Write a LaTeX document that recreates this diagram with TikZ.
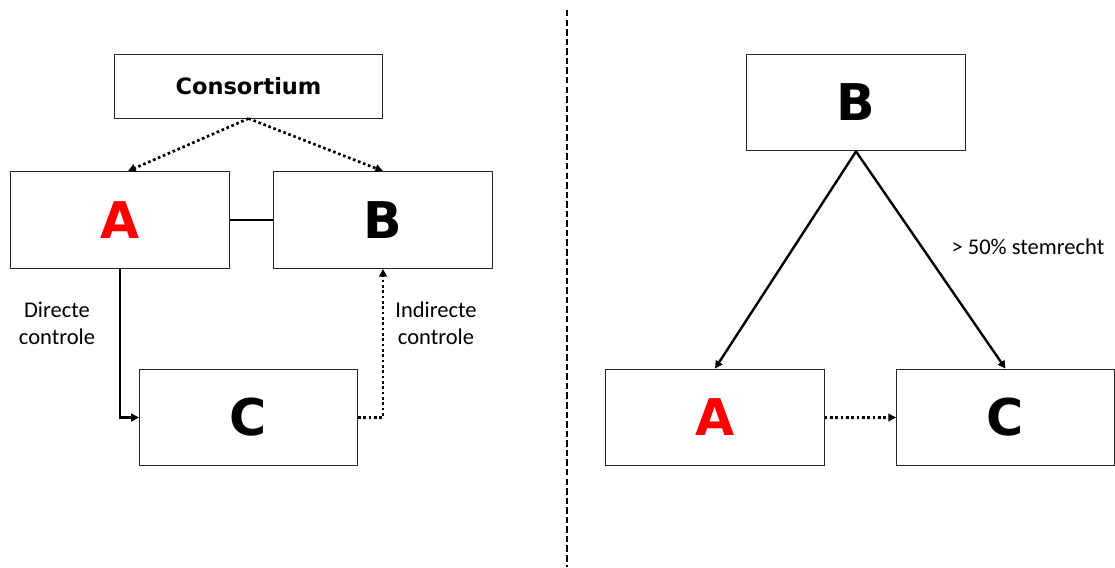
\documentclass[tikz,border=0pt]{standalone}
\usepackage{fontspec}
\setmainfont{Carlito}
\newfontfamily\verdanalike{DejaVu Sans}
\usepackage{xcolor}
\usepackage{tikz}
\usetikzlibrary{arrows.meta,positioning,calc}

\begin{document}
\begin{tikzpicture}[
    x=0.025cm, y=-0.025cm,
    >={Triangle[length=5.5pt,width=5.5pt]},
    box/.style={rectangle, draw=black!85, line width=0.7pt, fill=white,
                minimum width=5.45cm, minimum height=2.42cm, inner sep=0pt,
                font=\verdanalike\bfseries\fontsize{36}{40}\selectfont},
    topbox/.style={box, minimum width=6.72cm, minimum height=1.6cm,
                font=\verdanalike\bfseries\fontsize{16}{19}\selectfont},
    arr/.style={->, line width=1.7pt},
    dotarr/.style={->, line width=1.9pt, dash pattern=on 1.9pt off 1.9pt},
    lbl/.style={font=\fontsize{16}{19}\selectfont, align=center, inner sep=1pt}
]
\useasboundingbox (0,0) rectangle (1115,567);

% ---- Left: consortium case ----
\node[topbox] (cons) at (248.5,86)  {Consortium};
\node[box]    (lA)   at (120,220)   {\textcolor{red}{A}};
\node[box]    (lB)   at (383,220)   {B};
\node[box]    (lC)   at (248.5,417.5) {C};

\draw[dotarr] (cons.south) -- ([xshift=0.2cm]lA.north);
\draw[dotarr] (cons.south) -- (lB.north);
\draw[line width=1.7pt] (lA.east) -- (lB.west);
\draw[arr] (lA.south) |- (lC.west);
\draw[dotarr] (lC.east) -| (lB.south);

\node[lbl] (direct)   at (57,323)  {Directe\\controle};
\node[lbl] (indirect) at (436,323) {Indirecte\\controle};

% ---- Divider ----
\draw[line width=1.8pt, dash pattern=on 4.6pt off 2.2pt] (567,10) -- (567,567);

% ---- Right: majority voting case ----
\node[box] (rB) at (856,102.5)    {B};
\node[box] (rA) at (715,417.5)    {\textcolor{red}{A}};
\node[box] (rC) at (1005.5,417.5) {C};

\draw[arr] (rB.south) -- (rA.north);
\draw[arr] (rB.south) -- (rC.north)
      node[lbl, pos=0.44, anchor=west, xshift=0.68cm] {> 50\% stemrecht};
\draw[dotarr] (rA.east) -- (rC.west);

\end{tikzpicture}
\end{document}
